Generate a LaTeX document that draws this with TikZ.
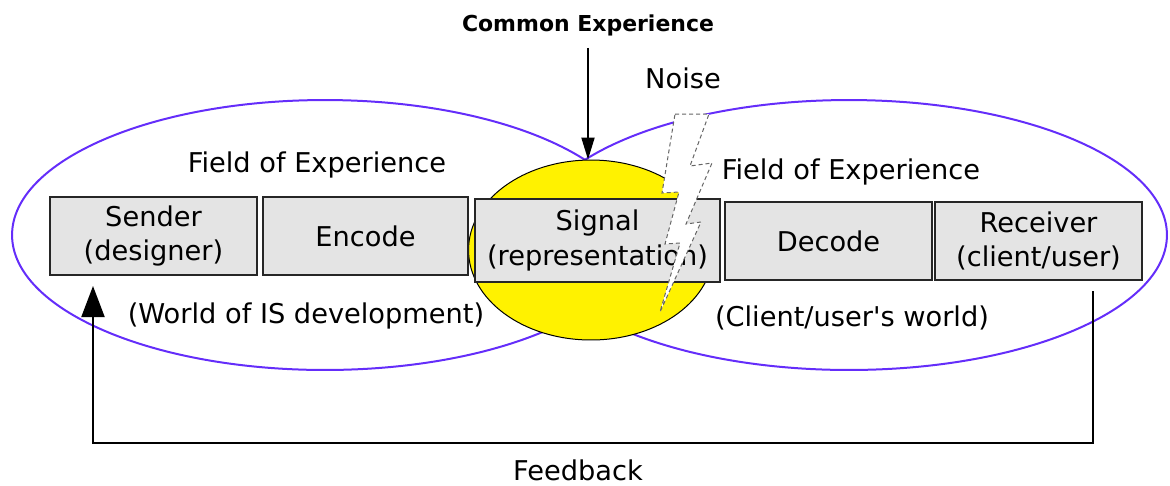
\documentclass[tikz,border=0pt]{standalone}
\usepackage{fontspec}
\setmainfont{DejaVu Sans}
\usetikzlibrary{arrows.meta,shapes.geometric}
\definecolor{fieldline}{RGB}{100,45,250}
\definecolor{boxgray}{RGB}{228,228,228}

\begin{document}
\begin{tikzpicture}[x=0.02cm, y=-0.02cm,
    every node/.style={font=\fontsize{15.5}{19.5}\selectfont},
    stage/.style={draw=black!85, line width=0.04cm, fill=boxgray, align=center,
        minimum width=4.14cm, minimum height=1.56cm, inner sep=0pt},
    field/.style={draw=fieldline, line width=0.04cm},
    bolt/.style={draw=black!60, fill=white, line width=0.02cm, dash pattern=on 0.08cm off 0.06cm}]
    \useasboundingbox (0,0) rectangle (1170,485);

    % Fields of experience
    \draw[field] (325,235) ellipse [x radius=6.26cm, y radius=2.7cm];
    \draw[field] (849,235) ellipse [x radius=6.36cm, y radius=2.7cm];
    \node[ellipse, draw=black, line width=0.02cm, fill=yellow, inner sep=0pt,
        minimum width=4.9cm, minimum height=3.6cm] (common) at (591,250) {};

    % Stages
    \node[stage] (sender) at (153.5,236) {Sender\\(designer)};
    \node[stage, minimum width=4.1cm] (encode) at (365.5,236) {Encode};
    \node[stage, minimum width=4.9cm, minimum height=1.66cm] (signal) at (597.5,240.5) {Signal\\(representation)};
    \node[stage] (decode) at (828.5,241) {Decode};
    \node[stage] (receiver) at (1038.5,241) {Receiver\\(client/user)};

    % Labels
    \node (fieldleft) at (317,165) {Field of Experience};
    \node (fieldright) at (851,172) {Field of Experience};
    \node (worldleft) at (306,316) {(World of IS development)};
    \node (worldright) at (852,318) {(Client/user\textquotesingle s world)};
    \node (noise) at (683,78) {Noise};
    \node[font=\bfseries\fontsize{12.5}{15}\selectfont] (commonlbl) at (588,25) {Common Experience};
    \node (feedbacklbl) at (578,470) {Feedback};

    \draw[line width=0.04cm, -{Triangle[length=0.44cm, width=0.26cm]}]
        (commonlbl.south) ++(0,6) -- (commonlbl |- common.north);

    % Feedback loop
    \coordinate (fbout) at (1093,291);
    \coordinate (fbin) at (93,286);
    \coordinate (fbbase) at (578,443);
    \draw[line width=0.04cm, -{Triangle[length=0.62cm, width=0.46cm]}]
        (fbout) -- (fbout |- fbbase) -- (fbin |- fbbase) -- (fbin);

    % Noise
    \draw[bolt] (675,114) -- (709,114) -- (690,166) -- (712,163) -- (686,224) -- (701,222)
        -- (660,312) -- (680,243) -- (665,244) -- (679,192) -- (662,193) -- cycle;
\end{tikzpicture}
\end{document}
